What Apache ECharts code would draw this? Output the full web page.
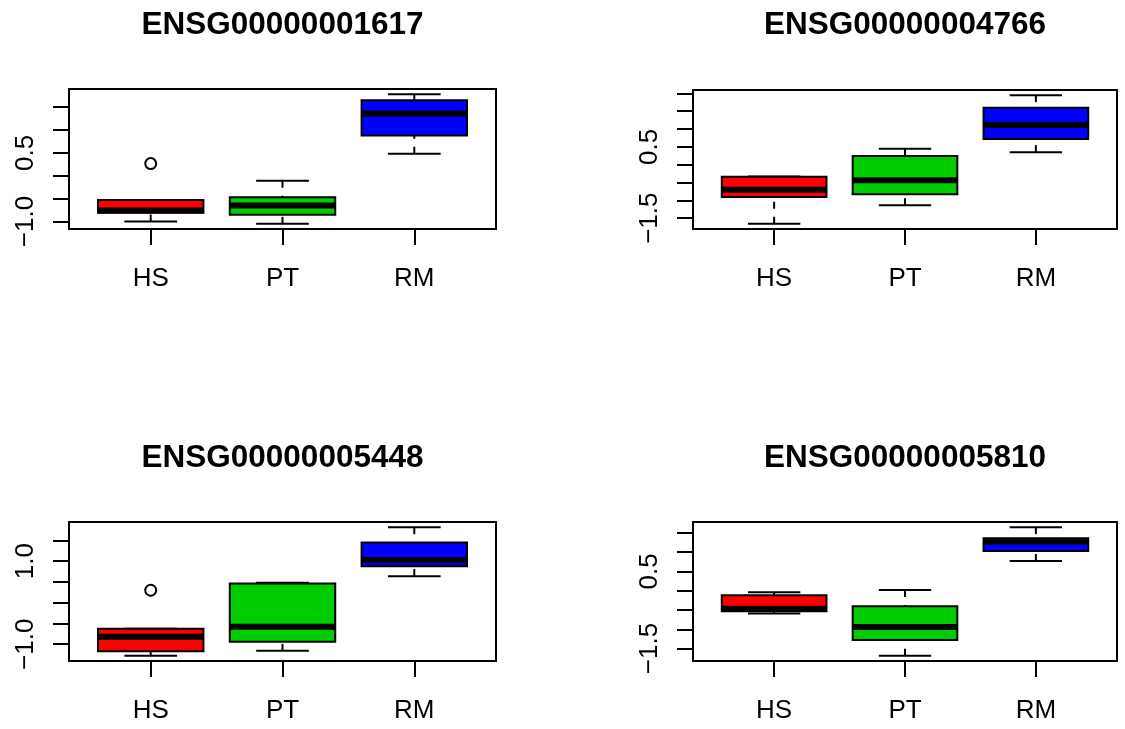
<!DOCTYPE html>
<html>
<head>
<meta charset="utf-8">
<script src="https://cdn.jsdelivr.net/npm/echarts@6/dist/echarts.min.js"></script>
<style>
html,body{margin:0;padding:0;background:#fff;}
#chart{width:1125px;height:729px;}
</style>
</head>
<body>
<div id="chart"></div>
<script>
// ---- data ----
const categories = ['HS', 'PT', 'RM'];
const titles = ['ENSG00000001617', 'ENSG00000004766', 'ENSG00000005448', 'ENSG00000005810'];
const boxColors = ['#FF0000', '#00CD00', '#0000FF'];

// [min, Q1, median, Q3, max] for HS, PT, RM
const gene1Stats = [[-1.00, -0.81, -0.76, -0.53, -0.53], [-1.05, -0.85, -0.65, -0.47, -0.11], [0.48, 0.88, 1.36, 1.65, 1.78]];
const gene2Stats = [[-1.66, -0.91, -0.70, -0.34, -0.33], [-1.14, -0.83, -0.44, 0.24, 0.45], [0.35, 0.72, 1.11, 1.60, 1.95]];
const gene3Stats = [[-1.28, -1.17, -0.82, -0.63, -0.63], [-1.16, -0.94, -0.58, 0.46, 0.48], [0.64, 0.88, 1.03, 1.45, 1.82]];
const gene4Stats = [[-0.59, -0.53, -0.47, -0.12, -0.04], [-1.69, -1.28, -0.94, -0.40, 0.02], [0.77, 1.03, 1.28, 1.36, 1.65]];

// outliers: [category index (1-based), value]
const gene1Outliers = [[1, 0.265]];
const gene2Outliers = [];
const gene3Outliers = [[1, 0.30]];
const gene4Outliers = [];

// y tick marks and labelled ticks
const gene1Ticks = [-1.0, -0.5, 0.0, 0.5, 1.0, 1.5];
const gene2Ticks = [-1.5, -1.0, -0.5, 0.0, 0.5, 1.0, 1.5, 2.0];
const gene3Ticks = [-1.0, -0.5, 0.0, 0.5, 1.0, 1.5];
const gene4Ticks = [-1.5, -1.0, -0.5, 0.0, 0.5, 1.0, 1.5];
const gene1Labels = [-1.0, 0.5];
const gene2Labels = [-1.5, 0.5];
const gene3Labels = [-1.0, 1.0];
const gene4Labels = [-1.5, 0.5];

// ---- layout ----
const FONT = 'Liberation Sans, Arial, Helvetica, sans-serif';
const grids = [
  {left: 69, top: 89, width: 427, height: 140},
  {left: 693, top: 90, width: 424, height: 139},
  {left: 69, top: 522, width: 427, height: 139},
  {left: 693, top: 522, width: 424, height: 139}
];
const titleY = [25.5, 25.5, 458, 458];

const panels = [
  {stats: gene1Stats, out: gene1Outliers, ticks: gene1Ticks, labels: gene1Labels},
  {stats: gene2Stats, out: gene2Outliers, ticks: gene2Ticks, labels: gene2Labels},
  {stats: gene3Stats, out: gene3Outliers, ticks: gene3Ticks, labels: gene3Labels},
  {stats: gene4Stats, out: gene4Outliers, ticks: gene4Ticks, labels: gene4Labels}
];

function fmt(v) {
  return (v < 0 ? '\u2212' : '') + Math.abs(v).toFixed(1);
}

const option = {
  animation: false,
  backgroundColor: '#ffffff',
  grid: [], xAxis: [], yAxis: [], series: [], graphic: []
};

panels.forEach((p, i) => {
  const g = grids[i];
  option.grid.push(Object.assign({show: true, borderColor: '#000', borderWidth: 2, backgroundColor: 'transparent', containLabel: false}, g));
  const all = [];
  p.stats.forEach(s => s.forEach(v => all.push(v)));
  p.out.forEach(o => all.push(o[1]));
  const lo = Math.min(...all), hi = Math.max(...all);
  const pad = 0.04 * (hi - lo);
  const xn = categories.length;
  const xpad = 0.04 * xn;
  option.xAxis.push({
    type: 'value', gridIndex: i, min: 0.5 - xpad, max: xn + 0.5 + xpad, position: 'bottom',
    axisLine: {show: false, onZero: false},
    splitLine: {show: false},
    axisTick: {show: true, length: 16, lineStyle: {color: '#000', width: 2}, customValues: [1, 2, 3]},
    axisLabel: {show: true, margin: 37, fontSize: 26, color: '#000', fontFamily: FONT,
      customValues: [1, 2, 3], formatter: v => categories[Math.round(v) - 1] || ''}
  });
  option.yAxis.push({
    type: 'value', gridIndex: i, min: lo - pad, max: hi + pad, position: 'left',
    axisLine: {show: false, onZero: false},
    splitLine: {show: false},
    axisTick: {show: true, length: 16, lineStyle: {color: '#000', width: 2}, customValues: p.ticks},
    axisLabel: {show: true, rotate: 90, margin: 30, fontSize: 26, color: '#000', fontFamily: FONT,
      customValues: p.labels, formatter: v => fmt(v)}
  });
  const boxData = p.stats.map((s, k) => [k + 1].concat(s).concat([k]));
  option.series.push({
    type: 'custom', xAxisIndex: i, yAxisIndex: i,
    data: boxData,
    encode: {x: 0, y: [1, 2, 3, 4, 5]},
    renderItem: function (params, api) {
      const x = api.value(0);
      const mn = api.value(1), q1 = api.value(2), md = api.value(3), q3 = api.value(4), mx = api.value(5);
      const ci = api.value(6);
      const hw = 0.4, sw = 0.2;
      const P = (a, b) => api.coord([a, b]);
      const pMin = P(x, mn), pQ1 = P(x, q1), pQ3 = P(x, q3), pMax = P(x, mx);
      const bl = P(x - hw, q3), br = P(x + hw, q1);
      const children = [];
      const dash = {stroke: '#000', lineWidth: 2, lineDash: [7, 8], fill: null};
      const solid = {stroke: '#000', lineWidth: 2, fill: null};
      if (Math.abs(pMin[1] - pQ1[1]) > 0.5)
        children.push({type: 'line', shape: {x1: pMin[0], y1: pMin[1], x2: pQ1[0], y2: pQ1[1]}, style: dash});
      if (Math.abs(pMax[1] - pQ3[1]) > 0.5)
        children.push({type: 'line', shape: {x1: pMax[0], y1: pMax[1], x2: pQ3[0], y2: pQ3[1]}, style: dash});
      const s1 = P(x - sw, mn), s2 = P(x + sw, mn);
      children.push({type: 'line', shape: {x1: s1[0], y1: s1[1], x2: s2[0], y2: s2[1]}, style: solid});
      const s3 = P(x - sw, mx), s4 = P(x + sw, mx);
      children.push({type: 'line', shape: {x1: s3[0], y1: s3[1], x2: s4[0], y2: s4[1]}, style: solid});
      children.push({type: 'rect', shape: {x: bl[0], y: bl[1], width: br[0] - bl[0], height: br[1] - bl[1]},
        style: {fill: boxColors[ci], stroke: '#000', lineWidth: 2}});
      const m1 = P(x - hw, md), m2 = P(x + hw, md);
      children.push({type: 'line', shape: {x1: m1[0], y1: m1[1], x2: m2[0], y2: m2[1]}, style: {stroke: '#000', lineWidth: 6}});
      return {type: 'group', children: children};
    },
    z: 2
  });
  option.series.push({
    type: 'scatter', xAxisIndex: i, yAxisIndex: i,
    data: p.out,
    symbol: 'circle', symbolSize: 11,
    itemStyle: {color: '#ffffff', borderColor: '#000', borderWidth: 2, opacity: 1},
    z: 3
  });
  option.graphic.push({
    type: 'text',
    x: g.left + g.width / 2, y: titleY[i],
    style: {text: titles[i], fontSize: 31.5, fontWeight: 'bold', fontFamily: FONT, fill: '#000',
      textAlign: 'center', textVerticalAlign: 'middle'}
  });
});

const chart = echarts.init(document.getElementById('chart'), null, {renderer: 'canvas'});
chart.setOption(option);
</script>
</body>
</html>
